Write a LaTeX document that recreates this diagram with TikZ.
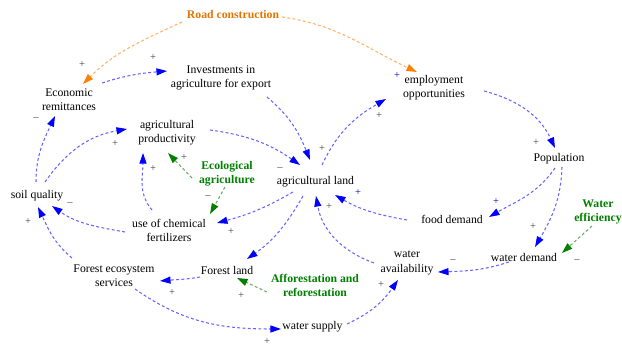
\documentclass[tikz,border=0pt]{standalone}
\usepackage{fontspec}
\setmainfont{Liberation Serif}
\usetikzlibrary{arrows.meta}

\begin{document}
\begin{tikzpicture}[
  x=0.03cm, y=0.03cm,
  font=\fontsize{10}{12}\selectfont,
  var/.style={align=center, inner sep=1pt},
  policy/.style={align=center, inner sep=1pt, font=\fontsize{10}{12}\selectfont\bfseries},
  sgn/.style={inner sep=0pt, font=\fontsize{9}{9}\selectfont, text=black!75},
  bsgn/.style={sgn, text=blue!70!black},
  lnk/.style={draw=blue!60, line width=0.9pt, dash pattern=on 2.5pt off 2pt, -{Triangle[length=9pt,width=6pt,color=blue]}},
  olnk/.style={lnk, draw=orange!60, -{Triangle[length=9pt,width=6pt,color=orange]}},
  glnk/.style={lnk, draw=green!45!black!60, -{Triangle[length=9pt,width=6pt,color=green!50!black]}}
]
  \useasboundingbox (0,0) rectangle (622,346);

  % variables
  \node[policy, text=orange!90!black] (road) at (233,331) {Road construction};
  \node[var] (econ) at (69,246) {Economic\\remittances};
  \node[var] (invest) at (221,268) {Investments in\\agriculture for export};
  \node[var] (employ) at (434,258) {employment\\opportunities};
  \node[var] (prod) at (167,213.5) {agricultural\\productivity};
  \node[policy, text=green!50!black] (ecol) at (227,172) {Ecological\\agriculture};
  \node[var] (agland) at (315.5,164) {agricultural land};
  \node[var] (pop) at (559,187) {Population};
  \node[var] (soil) at (37,150) {soil quality};
  \node[var] (chem) at (169,115.5) {use of chemical\\fertilizers};
  \node[var] (food) at (452,127) {food demand};
  \node[policy, text=green!50!black] (weff) at (598,134) {Water\\efficiency};
  \node[var] (wdem) at (524,89) {water demand};
  \node[var] (wavail) at (407,83) {water\\availability};
  \node[var] (fes) at (114,70.5) {Forest ecosystem\\services};
  \node[var] (forest) at (227,76) {Forest land};
  \node[policy, text=green!50!black] (affo) at (315,61) {Afforestation and\\reforestation};
  \node[var] (wsup) at (312.5,19) {water supply};

  % policy links
  \draw[olnk] ([shift={(-51,-7)}]road.center) to[out=205,in=45] ([shift={(14,16)}]econ.center);
  \draw[olnk] ([shift={(49,-2)}]road.center) to[out=-8,in=155] ([shift={(-17,16)}]employ.center);
  \draw[glnk] ([shift={(-6,-14)}]weff.center) -- ([shift={(38,4)}]wdem.center);
  \draw[glnk] ([shift={(-48,-7)}]affo.center) -- ([shift={(10,-8)}]forest.center);
  \draw[glnk] ([shift={(-35,-4)}]ecol.center) -- ([shift={(1,-20.5)}]prod.center);
  \draw[glnk] ([shift={(-2,-13)}]ecol.center) -- ([shift={(41,16.5)}]chem.center);

  % causal links
  \draw[lnk] ([shift={(33,17)}]econ.center) to[out=18,in=185] ([shift={(-54,7)}]invest.center);
  \draw[lnk] ([shift={(46,-19)}]invest.center) to[out=-40,in=112] ([shift={(-5.5,22)}]agland.center);
  \draw[lnk] ([shift={(6.5,17)}]agland.center) to[out=65,in=210] ([shift={(-48,-11)}]employ.center);
  \draw[lnk] ([shift={(50,-3)}]employ.center) to[out=-15,in=115] ([shift={(-4,11)}]pop.center);
  \draw[lnk] ([shift={(-4,-9)}]pop.center) to[out=235,in=30] ([shift={(37,2)}]food.center);
  \draw[lnk] ([shift={(3,-8)}]pop.center) to[out=-92,in=60] ([shift={(11,10)}]wdem.center);
  \draw[lnk] ([shift={(-45,-1)}]food.center) to[out=170,in=-30] ([shift={(19.5,-13)}]agland.center);
  \draw[lnk] ([shift={(-15,-5)}]wdem.center) to[out=198,in=2] ([shift={(31,-9)}]wavail.center);
  \draw[lnk] ([shift={(-33,0)}]wavail.center) to[out=160,in=-80] ([shift={(0.5,-14)}]agland.center);
  \draw[lnk] ([shift={(34.5,3)}]wsup.center) to[out=25,in=235] ([shift={(-9,-17)}]wavail.center);
  \draw[lnk] ([shift={(21,-13.5)}]fes.center) to[out=-35,in=180] ([shift={(-31.5,-2)}]wsup.center);
  \draw[lnk] ([shift={(-27,-7)}]forest.center) to[out=190,in=5] ([shift={(46,-5.5)}]fes.center);
  \draw[lnk] ([shift={(-12.5,-14)}]agland.center) to[out=240,in=35] ([shift={(20,11)}]forest.center);
  \draw[lnk] ([shift={(-22.5,-10)}]agland.center) to[out=210,in=15] ([shift={(48,7.5)}]chem.center);
  \draw[lnk] ([shift={(-17,20.5)}]chem.center) to[out=130,in=-90] ([shift={(-24,-20.5)}]prod.center);
  \draw[lnk] ([shift={(43,2.5)}]prod.center) to[out=-8,in=145] ([shift={(-15.5,17)}]agland.center);
  \draw[lnk] ([shift={(-44,-1.5)}]chem.center) to[out=170,in=-35] ([shift={(15,-10)}]soil.center);
  \draw[lnk] ([shift={(-1,14)}]soil.center) to[out=90,in=-115] ([shift={(-14,-16)}]econ.center);
  \draw[lnk] ([shift={(8,14)}]soil.center) to[out=55,in=190] ([shift={(-40,3.5)}]prod.center);
  \draw[lnk] ([shift={(-42,17.5)}]fes.center) to[out=140,in=-65] ([shift={(1,-11)}]soil.center);

  % polarities
  \node[sgn] (s1) at (82,281) {+};
  \node[sgn] (s2) at (153,288) {+};
  \node[bsgn] (s3) at (397,270) {+};
  \node[sgn] (s4) at (379,230) {+};
  \node[sgn] (s5) at (536,203) {+};
  \node[sgn] (s6) at (322,197) {+};
  \node[sgn] (s7) at (280,177) {--};
  \node[bsgn] (s8) at (358,153) {+};
  \node[sgn] (s9) at (329,139) {+};
  \node[sgn] (s10) at (231,114) {+};
  \node[bsgn] (s11) at (496,144) {+};
  \node[sgn] (s12) at (533,119) {+};
  \node[sgn] (s13) at (577,85) {--};
  \node[sgn] (s14) at (453,85) {--};
  \node[sgn] (s15) at (381,61) {+};
  \node[sgn] (s16) at (267,4) {+};
  \node[sgn] (s17) at (172,53) {+};
  \node[sgn] (s18) at (241,50) {+};
  \node[sgn] (s19) at (153,177) {+};
  \node[sgn] (s20) at (184,188) {+};
  \node[sgn] (s21) at (208,149) {--};
  \node[sgn] (s22) at (115,202) {+};
  \node[sgn] (s23) at (36,227) {--};
  \node[sgn] (s24) at (70,142) {--};
  \node[sgn] (s25) at (28,124) {+};
\end{tikzpicture}
\end{document}
